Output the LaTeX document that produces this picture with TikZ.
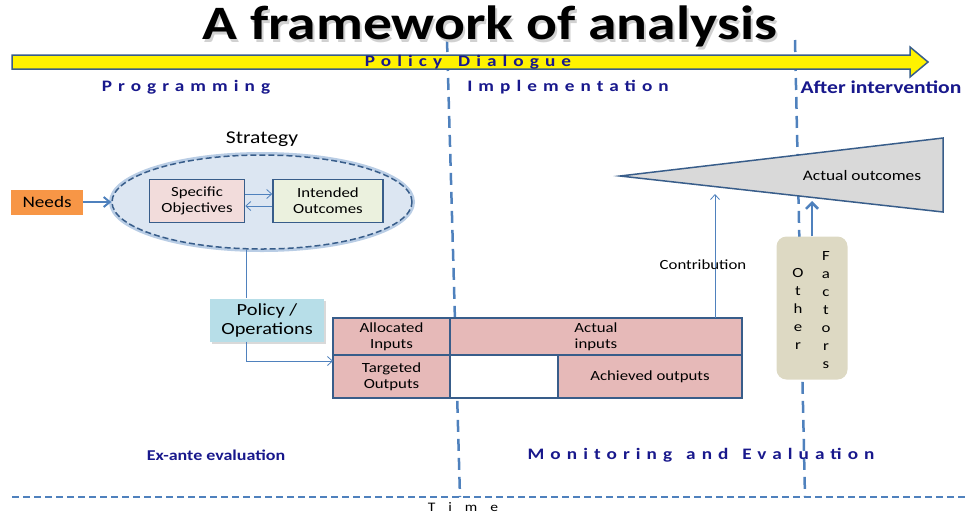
\documentclass[tikz,border=0pt]{standalone}
\usepackage{fontspec}
\setmainfont{Carlito}[FakeStretch=1.2]
\newfontfamily\spacedfont{Carlito}[LetterSpace=38,FakeStretch=1.2]
\newfontfamily\widefont{Carlito}[LetterSpace=100,FakeStretch=1.2]
\usetikzlibrary{positioning,shapes.geometric,shadows,arrows.meta}

\definecolor{lineblue}{RGB}{79,129,189}
\definecolor{darkblue}{RGB}{56,93,138}
\definecolor{phasenavy}{RGB}{24,24,140}
\definecolor{needsorange}{RGB}{247,150,70}
\definecolor{objpink}{RGB}{242,220,219}
\definecolor{outgreen}{RGB}{235,241,222}
\definecolor{strategyfill}{RGB}{220,230,242}
\definecolor{glowblue}{RGB}{185,205,229}
\definecolor{policyfill}{RGB}{183,222,232}
\definecolor{cellpink}{RGB}{230,185,184}
\definecolor{outcomegray}{RGB}{217,217,217}
\definecolor{factortan}{RGB}{221,217,195}

\begin{document}
\begin{tikzpicture}[x=1pt, y=-1pt, node distance=0pt,
  phase/.style={font=\spacedfont\bfseries\fontsize{16}{18}\selectfont, text=phasenavy},
  smallbox/.style={draw=darkblue, line width=1.5pt, minimum height=43pt, align=center, inner sep=1pt, font=\fontsize{14}{16}\selectfont},
  cell/.style={draw=darkblue, line width=1.5pt, fill=cellpink, outer sep=0pt, align=center, inner sep=1pt, font=\fontsize{14}{16}\selectfont},
  flow/.style={lineblue, thick, -{Straight Barb[length=5pt,width=9pt]}},
  timeline/.style={lineblue, line width=2.5pt, dash pattern=on 12pt off 7pt}]
            \useasboundingbox (0,0) rectangle (965,515);
            %Time lines
            \coordinate (progEndTop) at (447,40);
            \coordinate (progEndBot) at (460,497);
            \coordinate (implEndTop) at (795,40);
            \coordinate (implEndBot) at (805,497);
            \coordinate (timeStart) at (12,497);
            \coordinate (timeEnd) at (965,497);
            \draw[timeline] (progEndTop) -- (progEndBot);
            \draw[timeline] (implEndTop) -- (implEndBot);
            \draw[lineblue, line width=2pt, dash pattern=on 7pt off 4pt] (timeStart) -- (timeEnd);
            \node[font=\widefont\fontsize{13}{15}\selectfont] (timeLbl) at (463,507) {Time};

            %Title and dialogue arrow
            \node[text=black!18, font=\bfseries\fontsize{48}{52}\selectfont] (titleShadow) at (492,29) {A framework of analysis};
            \node[font=\bfseries\fontsize{48}{52}\selectfont] (title) at (490,26) {A framework of analysis};
            \draw[draw=darkblue, line width=1.5pt, fill=yellow, line join=miter]
              (12,55) -- (910,55) -- (910,47) -- (928,62) -- (910,77) -- (910,69) -- (12,69) -- cycle;
            \node[phase] (dialogue) at (468,62) {Policy\hspace{16pt}Dialogue};

            %Phases
            \node[phase] (programming) at (186,87) {Programming};
            \node[phase] (implementation) at (568,87) {Implementation};
            \node[phase, font=\bfseries\fontsize{18}{20}\selectfont] (afterInt) at (881,87) {After intervention};
            \node[phase, font=\bfseries\fontsize{15}{17}\selectfont] (exAnte) at (216,455) {Ex-ante evaluation};
            \node[phase] (monEval) at (701,455) {Monitoring\hspace{14pt}and\hspace{14pt}Evaluation};

            %Strategy
            \node[ellipse, minimum width=300pt, minimum height=94pt, fill=strategyfill, draw=darkblue,
                  line width=1.5pt, dash pattern=on 6pt off 3pt,
                  preaction={draw=glowblue, line width=6pt, solid}] (strategyEllipse) at (262,202) {};
            \node[font=\fontsize{18}{20}\selectfont] (strategyLbl) [above=4pt of strategyEllipse] {Strategy};
            \node[smallbox, fill=objpink, minimum width=95pt] (specificObj) at (197,201) {Specific\\Objectives};
            \node[smallbox, fill=outgreen, minimum width=110pt] (intendedOut) [right=27pt of specificObj] {Intended\\Outcomes};
            \draw[flow] ([yshift=7pt]specificObj.east) -- ([yshift=7pt]intendedOut.west);
            \draw[flow] ([yshift=-5pt]intendedOut.west) -- ([yshift=-5pt]specificObj.east);
            \node[fill=needsorange, minimum width=72pt, minimum height=25pt, inner sep=1pt, font=\fontsize{16}{18}\selectfont] (needs) [left=28pt of strategyEllipse] {Needs};
            \draw[lineblue, line width=2pt, -{Straight Barb[length=6pt,width=10pt]}] (needs.east) -- (needs.east -| strategyEllipse.west);

            %Policy and inputs/outputs
            \node[fill=policyfill, minimum width=114pt, minimum height=43pt, inner sep=1pt, align=center, font=\fontsize{17}{19}\selectfont,
                  drop shadow={opacity=0.3}] (policyOps) at (267,320) {Policy /\\Operations};
            \node[cell, anchor=north west, minimum width=117pt, minimum height=37pt] (allocInputs) at (333,318) {Allocated\\Inputs};
            \node[cell, minimum width=292pt, minimum height=37pt] (actualInputs) [right=of allocInputs] {Actual\\inputs};
            \node[cell, minimum width=117pt, minimum height=43pt] (targetOutputs) [below=of allocInputs] {Targeted\\Outputs};
            \node[cell, fill=white, minimum width=108pt, minimum height=43pt] (gapCell) [right=of targetOutputs] {};
            \node[cell, minimum width=184pt, minimum height=43pt] (achievedOutputs) [right=of gapCell] {Achieved outputs};
            \coordinate (branchX) at (246,250);
            \draw[lineblue, thick] (branchX) -- (branchX |- policyOps.north);
            \draw[flow] (branchX |- policyOps.south) |- ([yshift=-6pt]targetOutputs.north west);

            %Outcomes
            \coordinate (outcomeTip) at (620,176);
            \coordinate (outcomeTop) at (943,138);
            \coordinate (outcomeBot) at (943,212);
            \draw[draw=darkblue, line width=1.5pt, fill=outcomegray] (outcomeTip) -- (outcomeTop) -- (outcomeBot) -- cycle;
            \node[font=\fontsize{14.5}{16}\selectfont] (actualOutcomes) at (862,176) {Actual outcomes};
            \coordinate (contribEnd) at (715,194);
            \draw[flow] (actualInputs.north -| contribEnd) -- (contribEnd);
            \node[font=\fontsize{14}{16}\selectfont] (contribLbl) at (703,265) {Contribution};

            %Other factors
            \node[fill=factortan, rounded corners=10pt, minimum width=71pt, minimum height=143pt] (otherFactors) at (812,308) {};
            \node[align=center, inner sep=0pt, font=\fontsize{14}{18}\selectfont] (otherLbl) at (798,309) {O\\t\\h\\e\\r};
            \node[align=center, inner sep=0pt, font=\fontsize{14}{18}\selectfont] (factorsLbl) at (826,310) {F\\a\\c\\t\\o\\r\\s};
            \coordinate (factorEnd) at (812,201);
            \draw[lineblue, line width=2.5pt, -{Straight Barb[length=6pt]}] (otherFactors.north) -- (factorEnd);
        \end{tikzpicture}
\end{document}
